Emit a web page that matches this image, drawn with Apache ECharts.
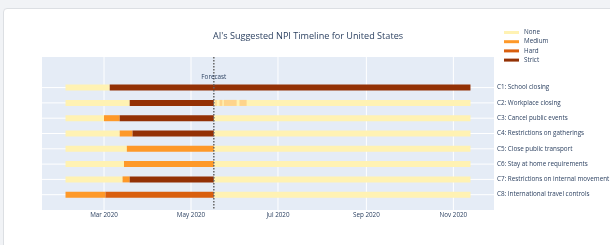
<!DOCTYPE html>
<html>
<head>
<meta charset="utf-8">
<script src="https://cdn.jsdelivr.net/npm/echarts@6/dist/echarts.min.js"></script>
<style>
  html, body { margin: 0; padding: 0; background: #f1f3f6; width: 610px; height: 245px; overflow: hidden; }
  #card { position: absolute; left: 3px; top: 8px; width: 700px; height: 300px; background: #fff; border: 1px solid #dcdfe3; border-radius: 4px; }
  #chart { position: absolute; left: 0; top: 0; width: 610px; height: 245px; }
</style>
</head>
<body>
<div id="card"></div>
<div id="chart"></div>
<script>
// ---- data ----
const title = "AI's Suggested NPI Timeline for United States";
const categories = [
  'C1: School closing',
  'C2: Workplace closing',
  'C3: Cancel public events',
  'C4: Restrictions on gatherings',
  'C5: Close public transport',
  'C6: Stay at home requirements',
  'C7: Restrictions on internal movement',
  'C8: International travel controls'
];
const levels = ['None', 'Medium', 'Hard', 'Strict'];
const forecastDate = '2020-05-17';
const xMin = '2020-01-17T12:00:00';
const xMax = '2020-11-29T12:00:00';
const tickDates = ['2020-03-01', '2020-05-01', '2020-07-01', '2020-09-01', '2020-11-01'];
const tickLabels = ['Mar 2020', 'May 2020', 'Jul 2020', 'Sep 2020', 'Nov 2020'];

// segments per row: [start, end, level]
const c1 = [['2020-02-03', '2020-03-05', 'None'], ['2020-03-05', '2020-11-13', 'Strict']];
const c2 = [['2020-02-03', '2020-03-19', 'None'], ['2020-03-19', '2020-05-17', 'Strict'], ['2020-05-17', '2020-11-13', 'None']];
const c3 = [['2020-02-03', '2020-03-01', 'None'], ['2020-03-01', '2020-03-12', 'Medium'], ['2020-03-12', '2020-05-17', 'Strict'], ['2020-05-17', '2020-11-13', 'None']];
const c4 = [['2020-02-03', '2020-03-12', 'None'], ['2020-03-12', '2020-03-21', 'Medium'], ['2020-03-21', '2020-05-17', 'Strict'], ['2020-05-17', '2020-11-13', 'None']];
const c5 = [['2020-02-03', '2020-03-17', 'None'], ['2020-03-17', '2020-05-17', 'Medium'], ['2020-05-17', '2020-11-13', 'None']];
const c6 = [['2020-02-03', '2020-03-15', 'None'], ['2020-03-15', '2020-05-17', 'Medium'], ['2020-05-17', '2020-11-13', 'None']];
const c7 = [['2020-02-03', '2020-03-14', 'None'], ['2020-03-14', '2020-03-19', 'Medium'], ['2020-03-19', '2020-05-17', 'Strict'], ['2020-05-17', '2020-11-13', 'None']];
const c8 = [['2020-02-03', '2020-03-02', 'Medium'], ['2020-03-02', '2020-05-17', 'Hard'], ['2020-05-17', '2020-11-13', 'None']];
// forecast (faded medium) spells on C2
const c2Forecast = [['2020-05-18', '2020-05-19'], ['2020-05-21', '2020-05-23'], ['2020-05-24', '2020-06-02'], ['2020-06-04', '2020-06-09']];
const rows = [c1, c2, c3, c4, c5, c6, c7, c8];

// ---- styles ----
const colors = { None: '#fff2b3', Medium: '#fe9929', Hard: '#d95f0e', Strict: '#933105' };
const fadedColor = '#fed48c';
const textColor = '#2a3f5f';
const font = '"Open Sans", Verdana, Arial, sans-serif';
const small = 6.3;

const ts = s => +new Date(s.length > 10 ? s : s + 'T00:00:00');
const nRows = categories.length;
const rowVal = i => nRows - i; // C1 -> 8 ... C8 -> 1
const tickTs = tickDates.map(ts);

const barH = 6;
function barItem(color) {
  return function (params, api) {
    const s = api.coord([api.value(0), api.value(2)]);
    const e = api.coord([api.value(1), api.value(2)]);
    return { type: 'rect', shape: { x: s[0], y: s[1] - barH / 2, width: e[0] - s[0], height: barH }, style: { fill: color } };
  };
}

const levelSeries = levels.map(lv => {
  const data = [];
  rows.forEach((segs, i) => segs.forEach(sg => { if (sg[2] === lv) data.push([ts(sg[0]), ts(sg[1]), rowVal(i)]); }));
  return {
    name: lv, type: 'custom', z: 3, renderItem: barItem(colors[lv]),
    encode: { x: [0, 1], y: 2 }, data: data, silent: true,
    itemStyle: { color: colors[lv] }
  };
});

const fadedSeries = {
  name: 'Forecast', type: 'custom', z: 4, renderItem: barItem(fadedColor),
  encode: { x: [0, 1], y: 2 }, silent: true,
  data: c2Forecast.map(sg => [ts(sg[0]), ts(sg[1]), rowVal(1)])
};

// gridlines: vertical at ticks, horizontal at rows
const gridData = tickTs.map(t => [t, -1]).concat(categories.map((c, i) => [ts(xMin), rowVal(i)]));
const gridSeries = {
  type: 'custom', z: 1, silent: true, encode: { x: 0, y: 1 },
  data: gridData,
  renderItem: function (params, api) {
    const cs = params.coordSys;
    if (api.value(1) < 0) {
      const p = api.coord([api.value(0), 0]);
      return { type: 'line', shape: { x1: p[0], y1: cs.y, x2: p[0], y2: cs.y + cs.height }, style: { stroke: '#ffffff', lineWidth: 1 } };
    }
    const p = api.coord([api.value(0), api.value(1)]);
    return { type: 'line', shape: { x1: cs.x, y1: p[1], x2: cs.x + cs.width, y2: p[1] }, style: { stroke: '#ffffff', lineWidth: 1 } };
  }
};

const forecastSeries = {
  type: 'custom', z: 10, silent: true, encode: { x: 0, y: 1 },
  data: [[ts(forecastDate), nRows]],
  renderItem: function (params, api) {
    const cs = params.coordSys;
    const p = api.coord([api.value(0), api.value(1)]);
    return {
      type: 'group', children: [
        { type: 'line', shape: { x1: p[0], y1: cs.y, x2: p[0], y2: cs.y + cs.height }, style: { stroke: '#666', lineWidth: 1.5, lineDash: [1.5, 1.5] } },
        { type: 'text', style: { x: p[0], y: p[1] - 10, text: 'Forecast', fill: textColor, font: small + 'px ' + font, textAlign: 'center', textVerticalAlign: 'middle' } }
      ]
    };
  }
};

const chart = echarts.init(document.getElementById('chart'), null, { renderer: 'canvas' });
chart.setOption({
  backgroundColor: 'transparent',
  animation: false,
  textStyle: { fontFamily: font },
  title: {
    text: title, left: 303, top: 27, textAlign: 'center',
    textStyle: { fontSize: 9.1, fontWeight: 'normal', color: textColor, fontFamily: font }
  },
  legend: {
    data: levels, orient: 'vertical', left: 499, top: 23,
    icon: 'rect', itemWidth: 15, itemHeight: 3, itemGap: 0.2,
    textStyle: { fontSize: small, lineHeight: 9, color: textColor, fontFamily: font },
    selectedMode: false
  },
  grid: { left: 42, right: 116, top: 57, bottom: 35, show: true, backgroundColor: '#e5ecf6', borderWidth: 0, containLabel: false, outerBoundsMode: 'none' },
  xAxis: {
    type: 'value', min: ts(xMin), max: ts(xMax), scale: true,
    axisLine: { show: false }, axisTick: { show: false }, splitLine: { show: false },
    axisLabel: {
      customValues: tickTs,
      formatter: v => { const k = tickTs.indexOf(v); return k >= 0 ? tickLabels[k] : ''; },
      fontSize: small, color: textColor, margin: 2, fontFamily: font
    }
  },
  yAxis: {
    type: 'value', min: 0, max: nRows + 2, interval: 1, position: 'right',
    axisLine: { show: false }, axisTick: { show: false }, splitLine: { show: false },
    axisLabel: {
      formatter: v => (v >= 1 && v <= nRows) ? categories[nRows - v] : '',
      fontSize: small, color: textColor, margin: 3, fontFamily: font
    }
  },
  series: [gridSeries].concat(levelSeries, [fadedSeries, forecastSeries])
});
</script>
</body>
</html>
